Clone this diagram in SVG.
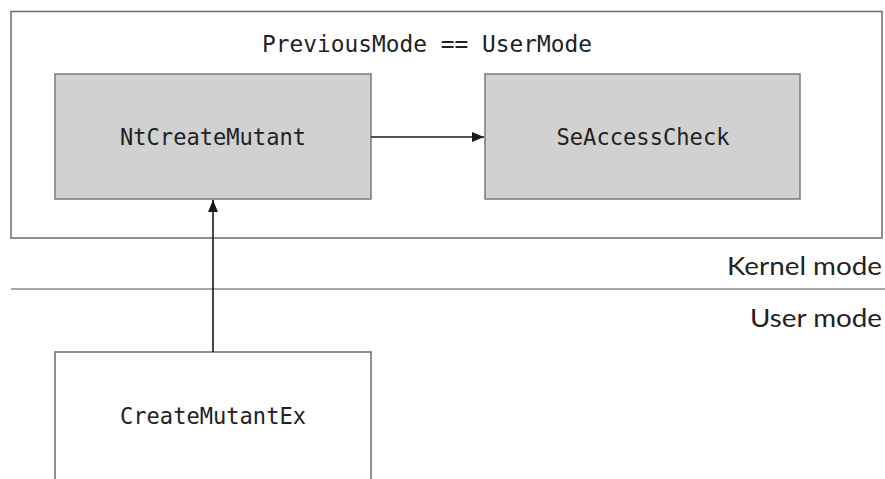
<svg xmlns="http://www.w3.org/2000/svg" width="885" height="479" viewBox="0 0 885 479">
  <defs>
    <style>
      .mono { font-family: "DejaVu Sans Mono", "Liberation Mono", monospace; font-size: 22.5px; fill: #222; }
      .label { font-family: "Lato", "Liberation Sans", sans-serif; font-size: 25px; fill: #222; }
      .gray { fill: #d1d1d1; stroke: #7a7a7a; stroke-width: 1.5; }
      .white { fill: #ffffff; stroke: #6a6a6a; stroke-width: 1.5; }
      .conn { stroke: #1a1a1a; stroke-width: 1.6; fill: none; }
    </style>
    <marker id="arrow" markerWidth="12" markerHeight="10" refX="12" refY="5" orient="auto" markerUnits="userSpaceOnUse">
      <path d="M0,0 L12,5 L0,10 z" fill="#1a1a1a"/>
    </marker>
  </defs>
  <rect width="885" height="479" fill="#ffffff"/>

  <g id="kernel-region">
    <rect class="white" x="11" y="11.5" width="871" height="226.5"/>
    <text class="mono" x="427" y="52" text-anchor="middle" textLength="330" lengthAdjust="spacingAndGlyphs">PreviousMode == UserMode</text>
  </g>

  <g id="mode-divider">
    <line x1="11" y1="289" x2="885" y2="289" stroke="#8a8a8a" stroke-width="1.5"/>
    <text class="label" x="882" y="275" text-anchor="end" textLength="155" lengthAdjust="spacingAndGlyphs">Kernel mode</text>
    <text class="label" x="882" y="327" text-anchor="end" textLength="132" lengthAdjust="spacingAndGlyphs">User mode</text>
  </g>

  <g id="NtCreateMutant">
    <rect class="gray" x="55" y="74" width="316" height="125"/>
    <text class="mono" x="213" y="145" text-anchor="middle" textLength="186" lengthAdjust="spacingAndGlyphs">NtCreateMutant</text>
  </g>

  <g id="SeAccessCheck">
    <rect class="gray" x="485" y="74" width="315" height="125"/>
    <text class="mono" x="643" y="145" text-anchor="middle" textLength="173" lengthAdjust="spacingAndGlyphs">SeAccessCheck</text>
  </g>

  <g id="CreateMutantEx">
    <rect class="white" x="55" y="352" width="316" height="140"/>
    <text class="mono" x="213" y="424" text-anchor="middle" textLength="186" lengthAdjust="spacingAndGlyphs">CreateMutantEx</text>
  </g>

  <g id="connectors">
    <line class="conn" x1="371" y1="137" x2="484" y2="137" marker-end="url(#arrow)"/>
    <line class="conn" x1="213" y1="352" x2="213" y2="200" marker-end="url(#arrow)"/>
  </g>
</svg>
